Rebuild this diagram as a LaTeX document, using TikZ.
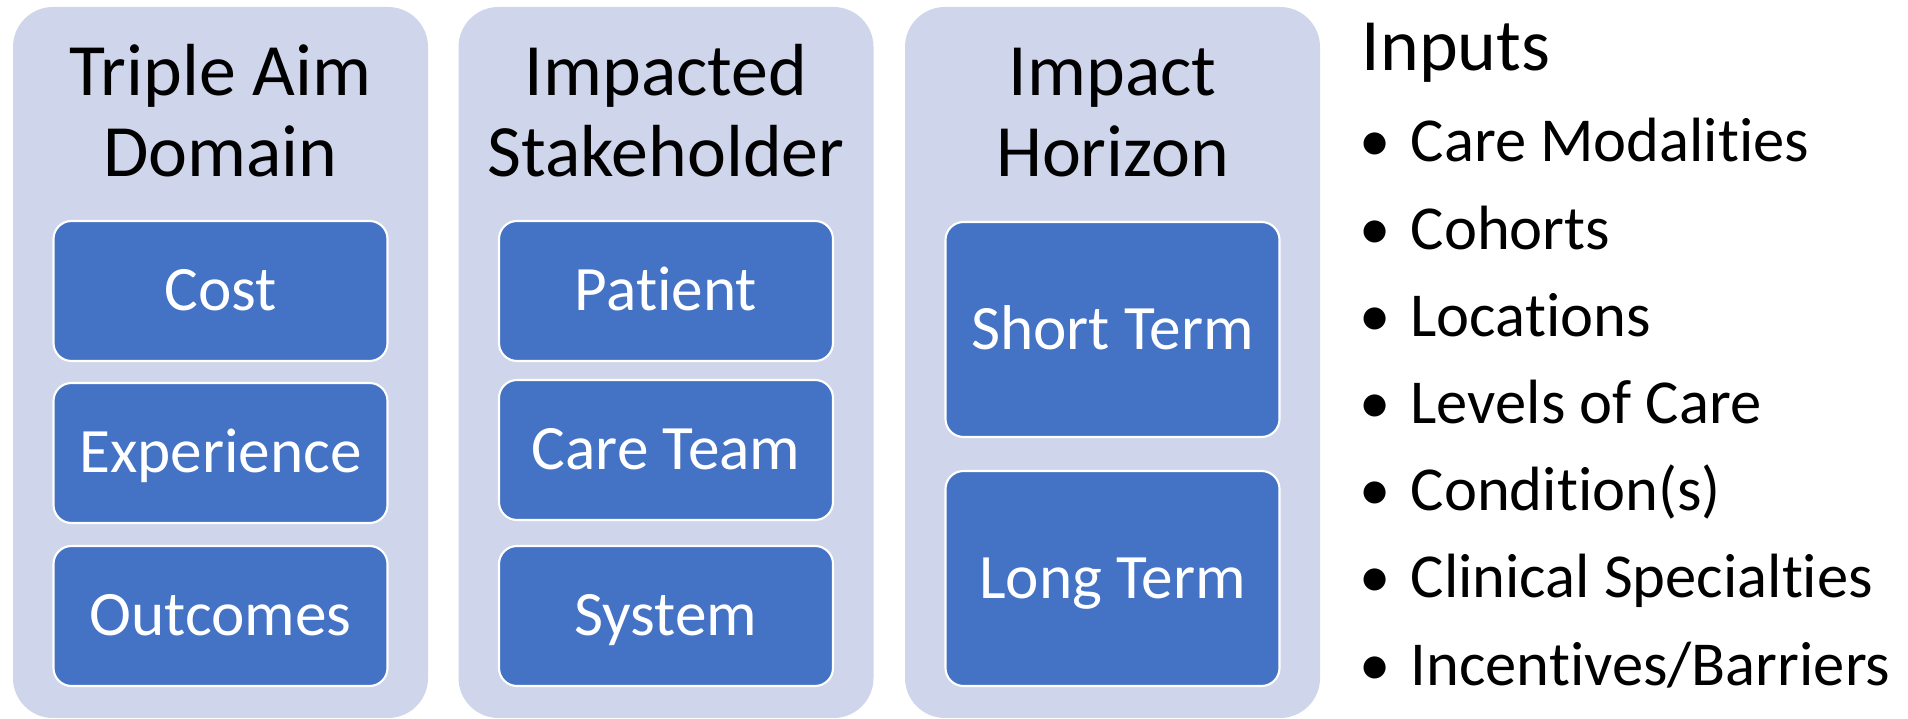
\documentclass[tikz,border=0pt]{standalone}
\usepackage{fontspec}
\setmainfont{Carlito}[Ligatures=NoCommon]
\definecolor{PanelFill}{HTML}{CFD5EA}
\definecolor{BoxFill}{HTML}{4472C4}
\tikzset{
    panel/.style = {
        shape          = rectangle,
        rounded corners = 0.4cm,
        fill           = PanelFill,
        minimum width  = 4.15cm,
        minimum height = 7.11cm,
        inner sep      = 0pt,
    },
    itembox/.style = {
        shape          = rectangle,
        rounded corners = 0.18cm,
        fill           = BoxFill,
        draw           = white,
        line width     = 0.6pt,
        text           = white,
        minimum width  = 3.34cm,
        minimum height = 1.40cm,
        text height    = 0.4cm,
        text depth     = 0pt,
        inner sep      = 0pt,
        font           = \fontsize{18}{21.6}\selectfont,
    },
    heading/.style = {
        anchor    = base,
        align     = center,
        inner sep = 0pt,
        font      = \fontsize{21}{23.3}\selectfont,
    },
    entry/.style = {
        anchor    = base west,
        inner sep = 0pt,
        font      = \fontsize{17.8}{21.6}\selectfont,
    },
    dot/.style = {
        anchor    = base,
        inner sep = 0pt,
        font      = \fontsize{17.8}{21.6}\selectfont,
    },
}

\begin{document}
\begin{tikzpicture}
    \useasboundingbox (0, 0) rectangle (19.08, 7.19);

    % three columns
    \node (domain)      at ( 2.205, 3.565) [panel] {};
    \node (stakeholder) at ( 6.660, 3.565) [panel] {};
    \node (horizon)     at (11.125, 3.565) [panel] {};

    % base anchor sits on the last line
    \node (domainTitle)      at ( 2.205, 5.42) [heading] {Triple Aim\\Domain};
    \node (stakeholderTitle) at ( 6.660, 5.42) [heading] {Impacted\\Stakeholder};
    \node (horizonTitle)     at (11.125, 5.42) [heading] {Impact\\Horizon};

    \node (cost)       at (2.205, 4.28) [itembox] {Cost};
    \node (experience) at (2.205, 2.66) [itembox] {Experience};
    \node (outcomes)   at (2.205, 1.03) [itembox] {Outcomes};

    \node (patient)  at (6.660, 4.28) [itembox] {Patient};
    \node (careTeam) at (6.660, 2.69) [itembox] {Care Team};
    \node (system)   at (6.660, 1.03) [itembox] {System};

    \node (shortTerm) at (11.125, 3.895) [itembox, minimum height = 2.15cm] {Short Term};
    \node (longTerm)  at (11.125, 1.405) [itembox, minimum height = 2.15cm] {Long Term};

    % inputs list
    \node (inputs) at (13.61, 6.48) [entry, font = \fontsize{21}{25}\selectfont] {Inputs};

    \node (dotA) at (13.75, 5.570) [dot] {•};
    \node (dotB) at (13.75, 4.698) [dot] {•};
    \node (dotC) at (13.75, 3.826) [dot] {•};
    \node (dotD) at (13.75, 2.954) [dot] {•};
    \node (dotE) at (13.75, 2.082) [dot] {•};
    \node (dotF) at (13.75, 1.210) [dot] {•};
    \node (dotG) at (13.75, 0.338) [dot] {•};

    \node (modalities)  at (14.10, 5.570) [entry] {Care Modalities};
    \node (cohorts)     at (14.10, 4.698) [entry] {Cohorts};
    \node (locations)   at (14.10, 3.826) [entry] {Locations};
    \node (levels)      at (14.10, 2.954) [entry] {Levels of Care};
    \node (conditions)  at (14.10, 2.082) [entry] {Condition(s)};
    \node (specialties) at (14.10, 1.210) [entry] {Clinical Specialties};
    \node (incentives)  at (14.10, 0.338) [entry] {Incentives/Barriers};
\end{tikzpicture}
\end{document}
